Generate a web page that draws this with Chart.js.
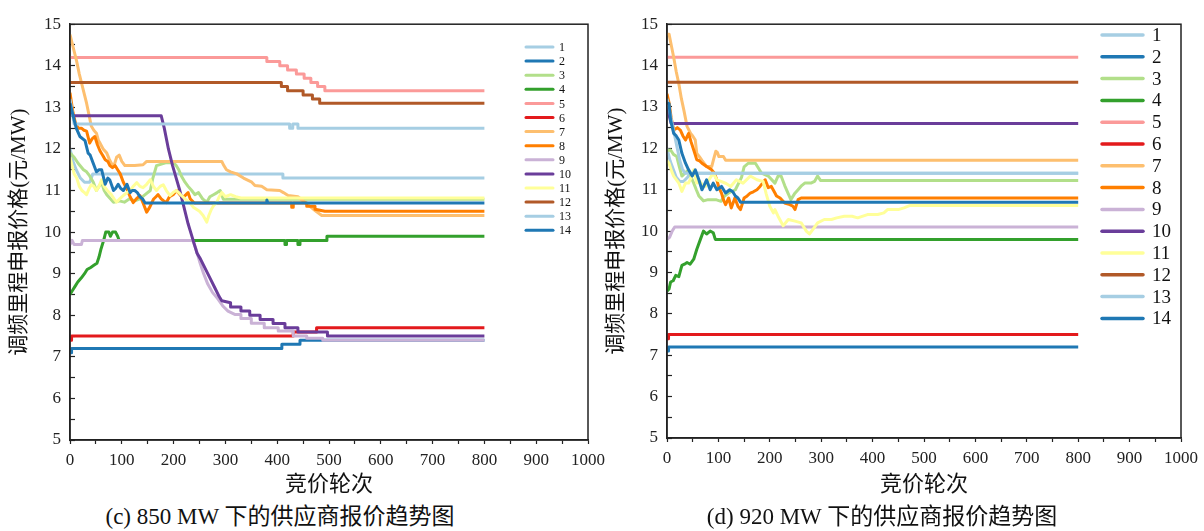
<!DOCTYPE html>
<html><head><meta charset="utf-8">
<script src="https://cdn.jsdelivr.net/npm/chart.js@4.4.1/dist/chart.umd.min.js"></script>
<style>
html,body{margin:0;padding:0;background:#fff;width:1204px;height:531px;overflow:hidden;}
.wrap{position:absolute;top:0;}
.cap{position:absolute;font-family:"Liberation Serif","Noto Sans CJK SC",serif;font-size:23px;color:#111;white-space:nowrap;transform:translateX(-50%);line-height:26px;}
</style></head><body>
<div class="wrap" style="left:0;"><canvas id="cA" width="620" height="500"></canvas></div>
<div class="wrap" style="left:598px;"><canvas id="cB" width="606" height="500"></canvas></div>
<div class="cap" style="left:280px;top:504px">(c) 850 MW 下的供应商报价趋势图</div>
<div class="cap" style="left:882px;top:504px">(d) 920 MW 下的供应商报价趋势图</div>
<script>
// ---------- labels / ticks ----------
const seriesNames = ['1','2','3','4','5','6','7','8','9','10','11','12','13','14'];
const seriesColors = ['#a6cee3','#1f78b4','#b2df8a','#33a02c','#fb9a99','#e31a1c','#fdbf6f','#ff7f00','#cab2d6','#6a3d9a','#ffff99','#b15928','#a6cee3','#1f78b4'];
const xTitle = '竞价轮次';
const yTitle = '调频里程申报价格(元/MW)';
const xMin = 0, xMax = 1000, xStep = 50, xLabelEvery = 100;
const yMin = 5, yMax = 15, yStep = 0.5;

// ---------- (c) 850 MW : [round, price] ----------
const c1 = [[0,12.0],[6,11.7],[12,11.5],[20,11.3],[28,11.2],[38,11.2],[44,11.4],[411,11.4],[411,11.3],[800,11.3]];
const c2 = [[0,7.1],[3,7.1],[3,7.2],[409,7.2],[409,7.3],[444,7.3],[444,7.4],[800,7.4]];
const c3 = [[0,11.9],[8,11.8],[16,11.65],[26,11.5],[32,11.45],[38,11.35],[45,11.2],[51,11.0],[56,11.1],[61,11.2],[66,11.0],[71,10.9],[78,10.8],[84,10.72],[95,10.75],[105,10.72],[115,10.8],[125,10.75],[135,10.8],[145,10.9],[155,11.0],[160,11.3],[167,11.6],[186,11.67],[200,11.67],[205,11.6],[210,11.5],[215,11.35],[222,11.2],[228,11.1],[235,11.0],[241,10.9],[248,10.95],[256,10.8],[264,10.72],[270,10.85],[277,10.9],[284,10.95],[290,11.0],[296,10.79],[800,10.79]];
const c4 = [[0,8.5],[5,8.6],[10,8.7],[15,8.8],[22,8.9],[28,9.0],[33,9.1],[40,9.15],[46,9.2],[52,9.25],[56,9.4],[60,9.6],[65,9.8],[69,10.0],[75,10.0],[78,9.9],[82,10.0],[88,10.0],[92,9.9],[95,9.8],[415,9.8],[415,9.7],[418,9.7],[418,9.8],[440,9.8],[440,9.7],[444,9.7],[444,9.8],[496,9.8],[496,9.9],[800,9.9]];
const c5 = [[0,14.2],[380,14.2],[380,14.1],[405,14.1],[405,14.0],[420,14.0],[420,13.9],[437,13.9],[437,13.8],[452,13.8],[452,13.7],[465,13.7],[465,13.6],[478,13.6],[478,13.5],[492,13.5],[492,13.4],[800,13.4]];
const c6 = [[0,7.4],[3,7.4],[3,7.5],[431,7.5],[431,7.6],[476,7.6],[476,7.7],[800,7.7]];
const c7 = [[0,14.75],[5,14.5],[13,14.1],[18,13.8],[23,13.55],[28,13.3],[32,13.1],[37,12.8],[41,12.55],[46,12.45],[51,12.38],[55,12.2],[58,12.14],[64,12.0],[71,11.9],[76,11.75],[80,11.65],[85,11.6],[90,11.8],[95,11.85],[100,11.7],[106,11.6],[125,11.6],[141,11.62],[148,11.7],[293,11.7],[297,11.6],[302,11.5],[310,11.45],[322,11.4],[335,11.3],[351,11.2],[357,11.12],[370,11.1],[380,11.02],[405,11.0],[412,10.95],[421,10.88],[440,10.85],[455,10.7],[465,10.6],[473,10.52],[486,10.4],[800,10.4]];
const c8 = [[0,13.35],[3,13.1],[6,12.86],[11,12.6],[16,12.5],[22,12.5],[27,12.45],[32,12.43],[38,12.14],[43,12.25],[48,12.3],[53,12.1],[58,11.95],[63,11.85],[68,11.74],[73,11.7],[77,11.6],[82,11.55],[87,11.6],[92,11.5],[97,11.4],[103,11.2],[110,11.03],[116,10.85],[122,10.71],[128,10.8],[135,10.88],[141,10.7],[148,10.48],[154,10.6],[161,10.79],[166,10.85],[170,10.9],[176,10.8],[181,10.75],[186,10.71],[192,10.85],[199,10.9],[206,11.0],[212,10.9],[218,10.83],[224,10.9],[228,10.95],[232,10.8],[240,10.7],[428,10.7],[428,10.6],[431,10.6],[431,10.7],[457,10.7],[457,10.62],[473,10.62],[473,10.55],[492,10.5],[800,10.5]];
const c9 = [[0,9.7],[4,9.8],[8,9.7],[22,9.7],[24,9.8],[237,9.8],[243,9.6],[250,9.3],[258,9.0],[266,8.75],[275,8.55],[285,8.4],[296,8.21],[305,8.1],[318,8.02],[330,8.02],[330,7.92],[350,7.92],[350,7.81],[375,7.81],[375,7.7],[402,7.7],[402,7.62],[431,7.62],[431,7.5],[457,7.5],[457,7.45],[488,7.45],[488,7.4],[800,7.4]];
const c10 = [[0,13.0],[4,12.8],[176,12.8],[182,12.5],[190,12.0],[198,11.6],[205,11.3],[212,11.0],[220,10.6],[228,10.2],[237,9.83],[245,9.5],[252,9.35],[258,9.2],[264,9.05],[272,8.85],[280,8.65],[288,8.45],[293,8.35],[310,8.3],[310,8.2],[330,8.2],[330,8.1],[347,8.1],[347,8.0],[367,8.0],[367,7.9],[392,7.9],[392,7.8],[415,7.8],[415,7.7],[440,7.7],[440,7.6],[497,7.6],[497,7.5],[800,7.5]];
const c11 = [[0,11.8],[4,11.6],[8,11.4],[13,11.3],[18,11.1],[23,11.0],[28,10.95],[32,10.9],[37,11.05],[41,11.14],[46,11.1],[51,11.0],[56,11.1],[61,11.26],[66,11.1],[72,11.0],[80,10.9],[85,10.8],[90,10.72],[96,10.8],[103,10.88],[110,10.95],[116,11.0],[122,11.1],[129,11.19],[135,11.1],[141,11.07],[148,11.15],[155,11.26],[161,11.1],[167,11.0],[174,11.1],[180,11.14],[186,11.0],[193,10.88],[199,10.95],[205,11.0],[210,10.95],[215,10.88],[222,10.8],[231,10.71],[238,10.6],[244,10.55],[250,10.5],[257,10.4],[264,10.24],[268,10.4],[273,10.55],[278,10.65],[283,10.71],[288,10.85],[293,10.95],[300,10.85],[310,10.9],[320,10.85],[330,10.82],[800,10.82]];
const c12 = [[0,13.6],[408,13.6],[408,13.5],[420,13.5],[420,13.4],[450,13.4],[450,13.3],[468,13.3],[468,13.2],[482,13.2],[482,13.1],[800,13.1]];
const c13 = [[0,13.2],[4,12.9],[8,12.6],[424,12.6],[424,12.5],[430,12.5],[430,12.6],[440,12.6],[440,12.5],[800,12.5]];
const c14 = [[0,13.1],[6,12.8],[12,12.5],[19,12.3],[29,12.2],[35,11.9],[39,11.85],[45,11.65],[51,11.45],[56,11.5],[61,11.5],[68,11.15],[73,11.3],[77,11.25],[84,11.0],[88,11.05],[93,11.15],[98,11.05],[103,11.0],[110,11.15],[116,10.95],[120,11.0],[125,11.0],[130,10.95],[135,10.85],[140,10.8],[145,10.7],[379,10.7],[380,10.77],[382,10.7],[800,10.7]];

// ---------- (d) 920 MW : [round, price] ----------
const d1 = [[0,12.0],[6,11.7],[12,11.5],[18,11.3],[25,11.2],[32,11.2],[40,11.3],[45,11.4],[800,11.4]];
const d2 = [[0,7.1],[3,7.1],[3,7.2],[800,7.2]];
const d3 = [[0,11.95],[7,11.96],[13,11.85],[19,11.8],[24,11.55],[29,11.33],[35,11.4],[42,11.48],[47,11.3],[52,11.16],[57,11.0],[62,10.85],[71,10.73],[80,10.76],[95,10.76],[105,10.72],[112,10.85],[120,10.92],[133,11.0],[145,11.3],[150,11.55],[158,11.64],[172,11.64],[184,11.4],[197,11.33],[210,11.16],[216,11.33],[222,11.33],[229,11.1],[236,10.9],[241,10.76],[248,10.9],[255,11.0],[262,11.1],[268,11.16],[280,11.16],[287,11.2],[293,11.33],[299,11.22],[800,11.22]];
const d4 = [[0,8.55],[4,8.6],[7,8.77],[12,8.8],[17,8.93],[23,8.9],[29,9.17],[34,9.2],[39,9.24],[45,9.2],[52,9.32],[58,9.56],[65,9.8],[71,10.0],[77,9.93],[84,10.0],[90,9.96],[94,9.8],[800,9.8]];
const d5 = [[0,14.2],[800,14.2]];
const d6 = [[0,7.4],[3,7.4],[3,7.5],[800,7.5]];
const d7 = [[0,14.76],[4,14.76],[9,14.45],[13,14.2],[18,13.85],[23,13.56],[28,13.2],[33,12.91],[39,12.53],[46,12.36],[50,12.3],[55,12.2],[58,11.88],[63,11.8],[68,11.71],[77,11.56],[87,11.56],[91,11.75],[95,11.93],[98,11.9],[101,11.8],[110,11.8],[114,11.71],[800,11.71]];
const d8 = [[0,13.32],[4,13.1],[8,12.75],[13,12.44],[20,12.5],[26,12.44],[31,12.3],[36,12.2],[42,12.36],[47,12.15],[52,11.96],[58,11.72],[63,11.7],[68,11.64],[77,11.56],[87,11.48],[92,11.4],[97,11.24],[101,11.05],[106,10.92],[110,10.75],[114,10.64],[120,10.8],[125,10.56],[132,10.8],[138,10.6],[143,10.52],[150,10.8],[156,10.85],[162,10.92],[168,10.95],[175,11.0],[181,11.08],[186,11.16],[191,11.24],[197,11.05],[203,11.08],[210,10.92],[213,10.85],[220,10.8],[229,10.68],[239,10.64],[245,10.6],[249,10.52],[255,10.76],[261,10.8],[800,10.8]];
const d9 = [[0,9.8],[5,9.85],[10,10.0],[15,10.1],[800,10.1]];
const d10 = [[0,13.0],[8,12.6],[800,12.6]];
const d11 = [[0,11.7],[4,11.64],[9,11.45],[13,11.33],[23,11.16],[29,10.96],[36,11.16],[42,11.16],[47,11.3],[52,11.48],[58,11.16],[64,11.2],[70,11.1],[75,11.08],[82,11.25],[90,11.4],[97,11.24],[105,11.2],[115,11.15],[124,11.08],[135,11.24],[148,11.16],[162,11.33],[175,11.24],[187,11.2],[193,10.9],[200,10.6],[207,10.44],[210,10.52],[216,10.36],[226,10.13],[236,10.28],[249,10.24],[261,10.2],[271,10.0],[277,9.93],[284,10.04],[293,10.2],[306,10.28],[320,10.28],[330,10.32],[345,10.36],[360,10.36],[371,10.32],[390,10.4],[410,10.4],[422,10.44],[429,10.52],[450,10.52],[461,10.56],[473,10.62],[800,10.62]];
const d12 = [[0,13.6],[800,13.6]];
const d13 = [[0,13.2],[5,12.9],[10,12.6],[15,12.3],[20,12.0],[25,11.7],[30,11.5],[35,11.4],[800,11.4]];
const d14 = [[0,13.1],[4,13.08],[7,12.68],[13,12.36],[18,12.3],[23,12.2],[29,11.88],[36,11.64],[42,11.48],[49,11.33],[55,11.48],[62,11.24],[68,11.0],[72,11.1],[77,11.24],[84,11.0],[90,11.16],[97,11.0],[106,11.08],[114,10.92],[122,11.0],[128,10.95],[133,10.85],[138,10.8],[143,10.7],[800,10.7]];

const seriesC = [c1,c2,c3,c4,c5,c6,c7,c8,c9,c10,c11,c12,c13,c14];
const seriesD = [d1,d2,d3,d4,d5,d6,d7,d8,d9,d10,d11,d12,d13,d14];

// ---------- chart builder ----------
const SERIF = '"Liberation Serif", "Noto Sans CJK SC", serif';
const AXIS = '#222';

const framePlugin = {
  id: 'frame',
  afterDatasetsDraw(chart) {
    const {ctx, chartArea: a} = chart;
    ctx.save();
    ctx.strokeStyle = AXIS; ctx.lineWidth = 1.5;
    ctx.strokeRect(a.left, a.top, a.right - a.left, a.bottom - a.top);
    ctx.restore();
  }
};
const legendPlugin = {
  id: 'customLegend',
  afterDraw(chart, args, o) {
    const {ctx} = chart;
    ctx.save();
    ctx.font = o.fontSize + 'px ' + SERIF;
    ctx.textBaseline = 'middle';
    ctx.fillStyle = '#111';
    seriesNames.forEach((name, i) => {
      const y = o.y0 + i * o.dy;
      ctx.strokeStyle = seriesColors[i];
      ctx.lineWidth = o.lw;
      ctx.lineCap = 'round';
      ctx.beginPath(); ctx.moveTo(o.x1, y); ctx.lineTo(o.x2, y); ctx.stroke();
      ctx.fillText(name, o.tx, y + 1);
    });
    ctx.restore();
  }
};

function build(id, series, g) {
  const datasets = series.map((s, i) => ({
    label: seriesNames[i],
    data: s.map(p => ({x: p[0], y: p[1]})),
    borderColor: seriesColors[i],
    borderWidth: 3,
    pointRadius: 0,
    tension: 0,
    fill: false,
    borderJoinStyle: 'round',
    order: series.length - i
  }));
  return new Chart(document.getElementById(id), {
    type: 'line',
    data: {datasets},
    plugins: [framePlugin, legendPlugin],
    options: {
      responsive: false, animation: false, events: [],
      layout: {padding: {left: 0, top: g.top, right: g.padRight, bottom: 0}},
      plugins: {
        legend: {display: false}, tooltip: {enabled: false},
        customLegend: g.legend
      },
      scales: {
        x: {
          type: 'linear', min: xMin, max: xMax,
          afterFit: s => { s.height = g.xH; },
          ticks: {stepSize: xStep, autoSkip: false, maxRotation: 0,
            callback: v => (v % xLabelEvery === 0 ? String(v) : ''),
            font: {family: SERIF, size: 17}, color: '#222', padding: 6},
          grid: {drawOnChartArea: false, drawTicks: true, tickLength: 4, tickColor: AXIS, tickWidth: 1.2},
          border: {display: true, color: AXIS, width: 1.5},
          title: {display: true, text: xTitle, font: {family: SERIF, size: 22}, color: '#111', padding: {top: 0, bottom: 2}}
        },
        y: {
          type: 'linear', min: yMin, max: yMax,
          afterFit: s => { s.width = g.yW; },
          ticks: {stepSize: yStep, autoSkip: false,
            callback: v => (Number.isInteger(v) ? String(v) : ''),
            font: {family: SERIF, size: 17}, color: '#222', padding: 14},
          grid: {drawOnChartArea: false, drawTicks: true, tickLength: -5, tickColor: AXIS, tickWidth: 1.2},
          border: {display: true, color: AXIS, width: 1.5},
          title: {display: true, text: yTitle, font: {family: SERIF, size: 21}, color: '#111', padding: {top: g.yTitlePad, bottom: 0}}
        }
      }
    }
  });
}

build('cA', seriesC, {top: 20, padRight: 32, xH: 60, yW: 70, yTitlePad: 7,
  legend: {x1: 526, x2: 553, tx: 559, y0: 47, dy: 14.1, fontSize: 12, lw: 3}});
build('cB', seriesD, {top: 18, padRight: 19, xH: 62, yW: 69, yTitlePad: 6,
  legend: {x1: 504, x2: 545, tx: 554, y0: 35, dy: 21.8, fontSize: 19, lw: 3.5}});
</script>
</body></html>
